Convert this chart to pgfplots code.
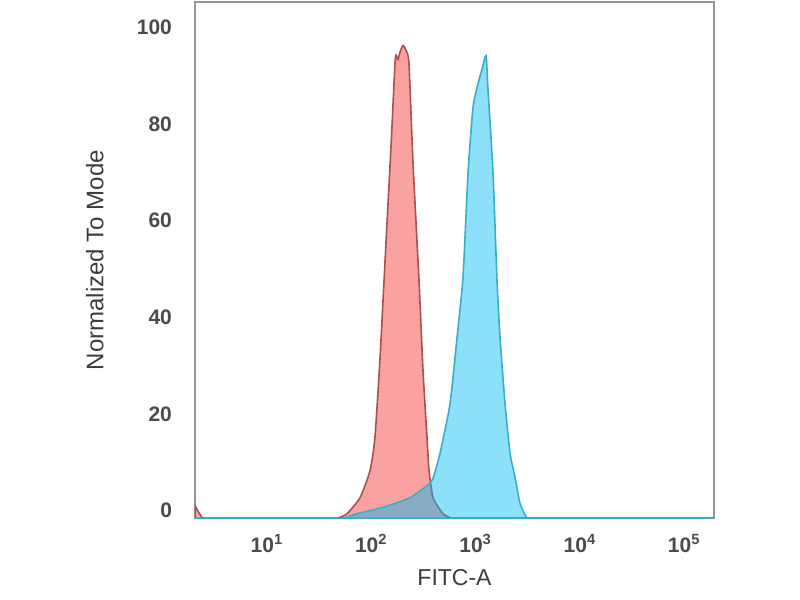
\documentclass[border=0pt]{standalone}
\usepackage{pgfplots}
\pgfplotsset{compat=1.18}
\usepackage{fontspec}
\setmainfont{Liberation Sans}
\definecolor{redfill}{RGB}{250,162,162}
\definecolor{redline}{RGB}{170,80,80}
\definecolor{bluefill}{RGB}{0,186,244}
\definecolor{blueline}{RGB}{55,175,200}
\definecolor{framegray}{RGB}{150,150,150}
\definecolor{ticktext}{RGB}{75,75,75}
\definecolor{labeltext}{RGB}{60,60,60}
\begin{document}
\begin{tikzpicture}
\useasboundingbox (0,0) rectangle (400pt,300pt);
\begin{axis}[
  at={(97.5pt,40.75pt)}, anchor=south west,
  width=259.5pt, height=258.25pt, scale only axis,
  xmode=log, xmin=2.04, xmax=193000,
  ymin=0, ymax=106.9,
  axis line style={framegray, line width=1pt},
  major tick length=0pt, minor tick length=0pt,
  xtick={10,100,1000,10000,100000},
  xticklabels={10\textsuperscript{1},10\textsuperscript{2},10\textsuperscript{3},10\textsuperscript{4},10\textsuperscript{5}},
  ytick={0,20,40,60,80,100},
  yticklabels={0,20,40,60,80,100},
  xticklabel style={font=\fontsize{10.5}{12}\selectfont\bfseries, text=ticktext, anchor=center, yshift=-12.5pt},
  yticklabel style={font=\fontsize{10.5}{12}\selectfont\bfseries, text=ticktext, anchor=east, xshift=-8pt, yshift=4pt},
  xlabel={FITC-A},
  ylabel={Normalized To Mode},
  every axis x label/.style={at={(axis description cs:0.5,-0.114)}, anchor=center, font=\fontsize{11.5}{13}\selectfont, text=labeltext},
  every axis y label/.style={at={(axis description cs:-0.193,0.5)}, anchor=center, rotate=90, font=\fontsize{12}{14}\selectfont, text=labeltext},
  clip=true,
]
\addplot[fill=redfill, draw=redline, line width=0.8pt, smooth, tension=0.35] table[row sep=\\] {
x y\\
2.04 2.7\\
2.18 1.5\\
2.43 0\\
2.7 0\\
38 0\\
43 0\\
46.9 0\\
58.5 1.0\\
77.9 4.3\\
97.2 9.9\\
108.4 16.8\\
121.1 33\\
129.4 45\\
141.3 61\\
154.5 77\\
168.7 94.2\\
172.6 95.9\\
180.4 95.0\\
188.4 96.5\\
201.4 97.9\\
215.3 96.9\\
229.6 94.2\\
251.2 73.5\\
286.6 49.3\\
313.2 30.6\\
342.0 16.8\\
357.4 10.0\\
390.8 4.3\\
486.8 1.0\\
594.3 0\\
650 0\\
720 0\\
193000 0\\
} \closedcycle;
\addplot[fill=bluefill, fill opacity=0.45, draw=blueline, line width=0.8pt, smooth, tension=0.35] table[row sep=\\] {
x y\\
2.04 0\\
40 0\\
47 0\\
53.6 0\\
73.0 1.0\\
129.4 2.3\\
235.0 4.3\\
365.6 7.3\\
390.8 8.3\\
456.0 13.5\\
568.9 23.8\\
663.9 37.5\\
757.6 50\\
845.6 71.5\\
944.6 85.1\\
1056.8 90.1\\
1153.5 93\\
1259.3 95.8\\
1316.0 88.6\\
1469.0 71.4\\
1603.3 49.3\\
1713.9 37.5\\
1914.2 23.8\\
2138.0 13.5\\
2387.8 8.5\\
2666.9 3.1\\
3113.7 0\\
3400 0\\
3800 0\\
193000 0\\
} \closedcycle;
\end{axis}
\end{tikzpicture}
\end{document}
